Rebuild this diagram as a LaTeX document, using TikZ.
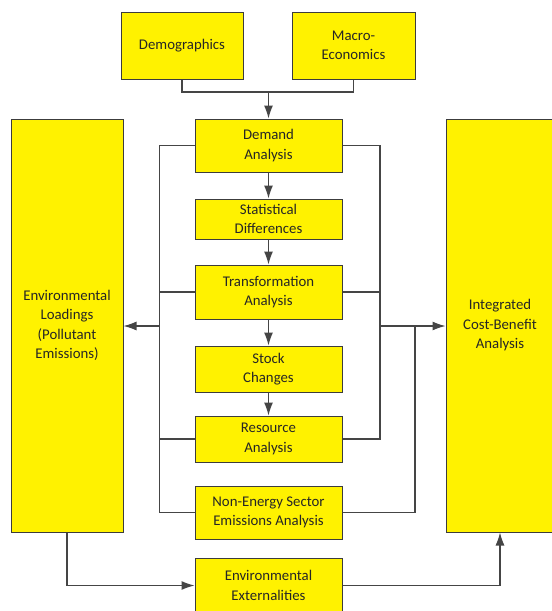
\documentclass[tikz,border=0pt]{standalone}
\usepackage{fontspec}
\setmainfont{Carlito}
\usepackage{tikz}
\usetikzlibrary{arrows.meta}
\definecolor{boxyellow}{HTML}{FFF200}
\definecolor{boxline}{HTML}{3C3C3C}
\definecolor{wire}{HTML}{454545}

\begin{document}
\begin{tikzpicture}[x=1pt,y=-1pt]
	\useasboundingbox (0,0) rectangle (552,611);
	\clip (0,0) rectangle (552,611);
	\begin{scope}[every node/.style={rectangle,draw=boxline,line width=1pt,fill=boxyellow,
	              align=center,inner sep=0pt,minimum width=147pt,text=black!85,
	              font=\fontsize{14.8}{19.5}\selectfont}]
		\node[minimum width=122pt,minimum height=67pt] (demo) at (182,45.5) {Demographics};
		\node[minimum width=123pt,minimum height=67pt] (macro) at (353.5,45.5) {Macro-\\Economics};
		\node[minimum height=53pt] (demand) at (268.5,145.5) {Demand\\Analysis};
		\node[minimum height=40pt] (stat) at (268.5,219) {Statistical\\Differences};
		\node[minimum height=54pt] (trans) at (268.5,292) {Transformation\\Analysis};
		\node[minimum height=46pt] (stock) at (268.5,369) {Stock\\Changes};
		\node[minimum height=46pt] (res) at (268.5,439) {Resource\\Analysis};
		\node[minimum height=53pt] (nonen) at (268.5,512.5) {Non-Energy Sector\\Emissions Analysis};
		\node[minimum height=54pt] (envext) at (268.5,585.5) {Environmental\\Externalities};
		\node[minimum width=112pt,minimum height=413pt] (envload) at (67,325.5) {Environmental\\Loadings\\(Pollutant\\Emissions)};
		\node[minimum width=108pt,minimum height=413pt] (cba) at (500,325.5) {Integrated\\Cost-Benefit\\Analysis};
	\end{scope}

	\coordinate (join) at (268.5,92);
	\coordinate (lbot) at (159.5,512.5);
	\coordinate (lmid) at (159.5,326);
	\coordinate (rbot) at (380,439);
	\coordinate (rmid) at (380,326);
	\coordinate (rjoin) at (415,326);

	\begin{scope}[>={Latex[length=13pt,width=9pt]},
	              every path/.style={draw=wire,line width=1.1pt}]
		% inputs into demand
		\draw (demo.south) |- (join) -| (macro.south);
		\draw[->] (join) -- (demand.north);
		% the energy chain
		\draw[->] (demand) -- (stat);
		\draw[->] (stat) -- (trans);
		\draw[->] (trans) -- (stock);
		\draw[->] (stock) -- (res);
		% left collector
		\draw (demand.west) -| (lbot) -- (nonen.west);
		\draw (trans.west) -- (trans.west -| lbot);
		\draw (res.west) -- (res.west -| lbot);
		\draw[->] (lmid) -- (envload.east |- lmid);
		% right collector
		\draw (demand.east) -| (rbot) -- (res.east);
		\draw (trans.east) -- (trans.east -| rbot);
		\draw[->] (rmid) -- (cba.west |- rmid);
		\draw (nonen.east) -| (rjoin);
		% externalities
		\draw[->] (envload.south) |- (envext.west);
		\draw[->] (envext.east) -| (cba.south);
	\end{scope}
\end{tikzpicture}
\end{document}
